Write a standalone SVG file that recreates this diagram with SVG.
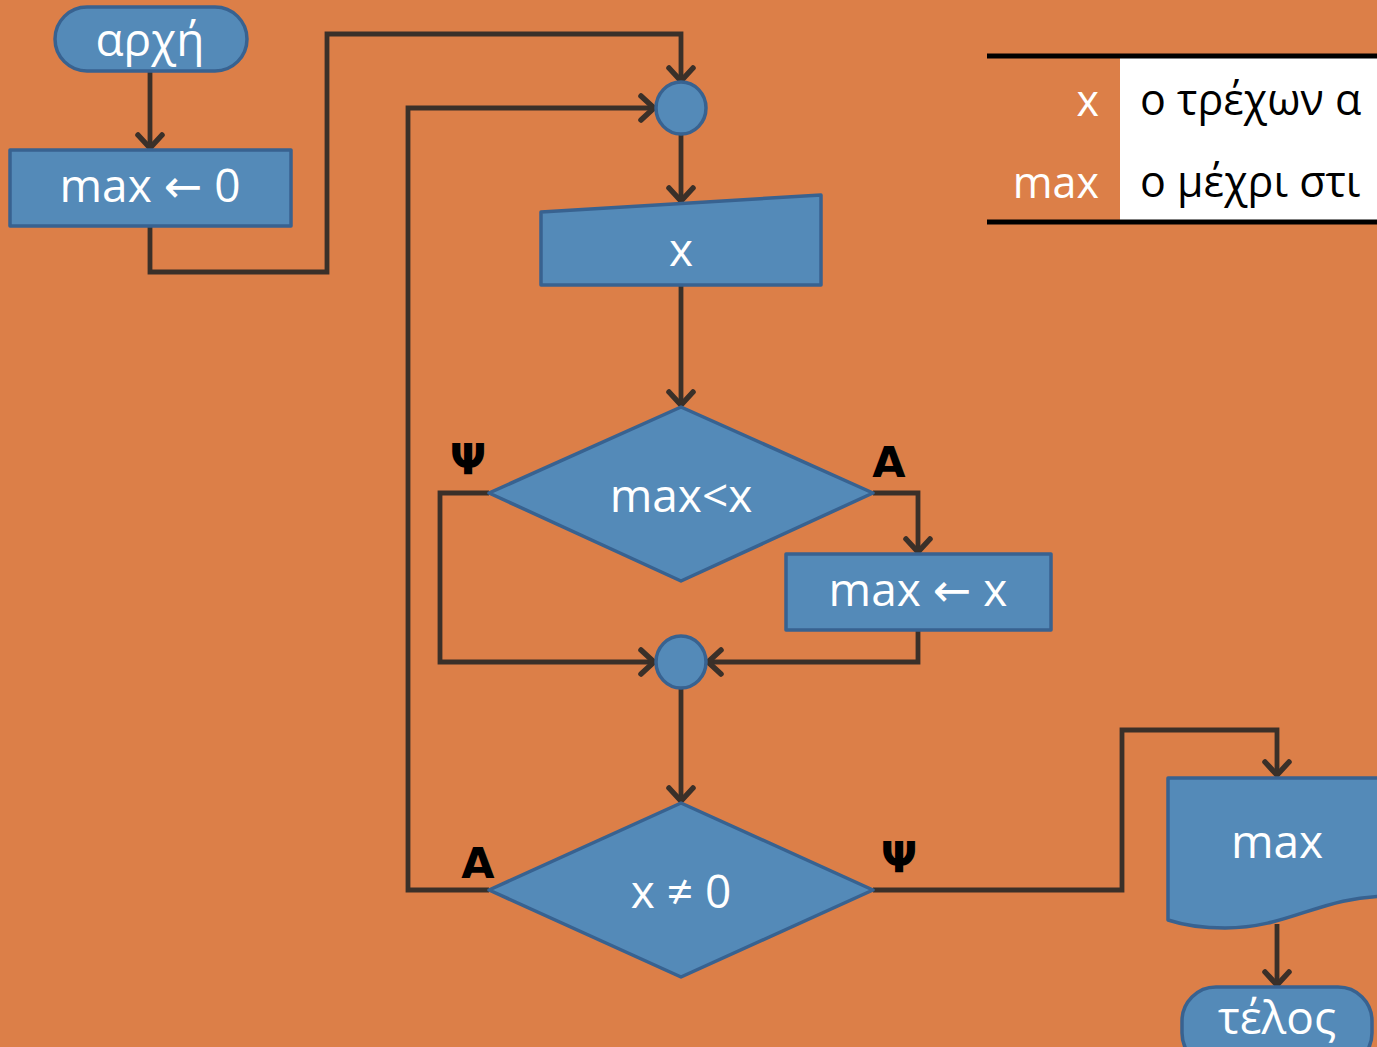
<svg xmlns="http://www.w3.org/2000/svg" width="1377" height="1047" viewBox="0 0 1377 1047">
<defs>
<style>
.node{fill:#548AB8;stroke:#386290;stroke-width:3.5;stroke-linejoin:round}
.lbl{font-family:"Open Sans","Noto Sans",sans-serif;fill:#fff;text-anchor:middle;font-size:46px}
.arr{font-family:"DejaVu Sans",sans-serif;font-size:46px}
.yn{font-family:"DejaVu Sans","Liberation Sans",sans-serif;font-weight:bold;fill:#000;text-anchor:middle;font-size:43px}
.conn path{fill:none;stroke:#3A3029;stroke-width:4.8;stroke-linejoin:miter}
.leg{font-family:"Open Sans","Noto Sans",sans-serif;font-size:43px}
</style>
<marker id="ah" markerUnits="userSpaceOnUse" markerWidth="34" markerHeight="34" refX="0" refY="0" viewBox="-17 -17 20 34" orient="auto">
<path d="M-13,-12 L0,0 L-13,12" fill="none" stroke="#3A3029" stroke-width="5.5" stroke-linecap="round" stroke-linejoin="miter"/>
</marker>
</defs>
<rect x="0" y="0" width="1377" height="1047" fill="#DC7F48"/>

<g id="legend">
<rect x="1120" y="57" width="257" height="165" fill="#fff"/>
<line x1="987" y1="56" x2="1377" y2="56" stroke="#000" stroke-width="5"/>
<line x1="987" y1="222" x2="1377" y2="222" stroke="#000" stroke-width="5"/>
<text class="leg" x="1099" y="116" fill="#fff" text-anchor="end" font-size="40">x</text>
<text class="leg" x="1099" y="198" fill="#fff" text-anchor="end" font-size="42">max</text>
<text class="leg" x="1140" y="115" fill="#000">ο τρέχων α</text>
<text class="leg" x="1140" y="197" fill="#000">ο μέχρι στι</text>
</g>

<g class="conn" id="connectors">
<path d="M150,71 V148" marker-end="url(#ah)"/>
<path d="M150,226 V272 H327 V34 H681 V81" marker-end="url(#ah)"/>
<path d="M489,890 H408 V108 H654" marker-end="url(#ah)"/>
<path d="M681,135 V201" marker-end="url(#ah)"/>
<path d="M681,285 V405" marker-end="url(#ah)"/>
<path d="M873,493 H918 V552" marker-end="url(#ah)"/>
<path d="M489,493 H440 V662 H654" marker-end="url(#ah)"/>
<path d="M918,630 V662 H708" marker-end="url(#ah)"/>
<path d="M681,689 V801" marker-end="url(#ah)"/>
<path d="M873,890 H1122 V730 H1277 V775" marker-end="url(#ah)"/>
<path d="M1277,924 V985" marker-end="url(#ah)"/>
</g>

<g id="start">
<rect class="node" x="55" y="7" width="192" height="64" rx="32"/>
<text class="lbl" x="150" y="56">αρχή</text>
</g>
<g id="init">
<rect class="node" x="10" y="150" width="281" height="76"/>
<text class="lbl" x="150" y="202">max <tspan class="arr">←</tspan> 0</text>
</g>
<g id="join1">
<ellipse class="node" cx="681" cy="108" rx="25" ry="26"/>
</g>
<g id="input">
<path class="node" d="M541,212 L821,195 L821,285 L541,285 Z"/>
<text class="lbl" x="681" y="266">x</text>
</g>
<g id="cond1">
<path class="node" d="M681,407 L873,493 L681,581 L489,493 Z"/>
<text class="lbl" x="681" y="512" font-size="44">max&lt;x</text>
<text class="yn" x="468" y="474">Ψ</text>
<text class="yn" x="889" y="477">Α</text>
</g>
<g id="assign">
<rect class="node" x="786" y="554" width="265" height="76"/>
<text class="lbl" x="918" y="606">max <tspan class="arr">←</tspan> x</text>
</g>
<g id="join2">
<ellipse class="node" cx="681" cy="662" rx="25" ry="26"/>
</g>
<g id="cond2">
<path class="node" d="M681,803 L873,890 L681,977 L489,890 Z"/>
<text class="lbl" x="681" y="908">x ≠ 0</text>
<text class="yn" x="478" y="878">Α</text>
<text class="yn" x="899" y="872">Ψ</text>
</g>
<g id="output">
<path class="node" d="M1168,778 L1390,778 L1390,896 C1320,896 1290,928 1225,928 C1195,928 1180,924 1168,920 Z"/>
<text class="lbl" x="1277" y="858">max</text>
</g>
<g id="end">
<rect class="node" x="1182" y="987" width="190" height="80" rx="34"/>
<text class="lbl" x="1277" y="1034">τέλος</text>
</g>
</svg>
